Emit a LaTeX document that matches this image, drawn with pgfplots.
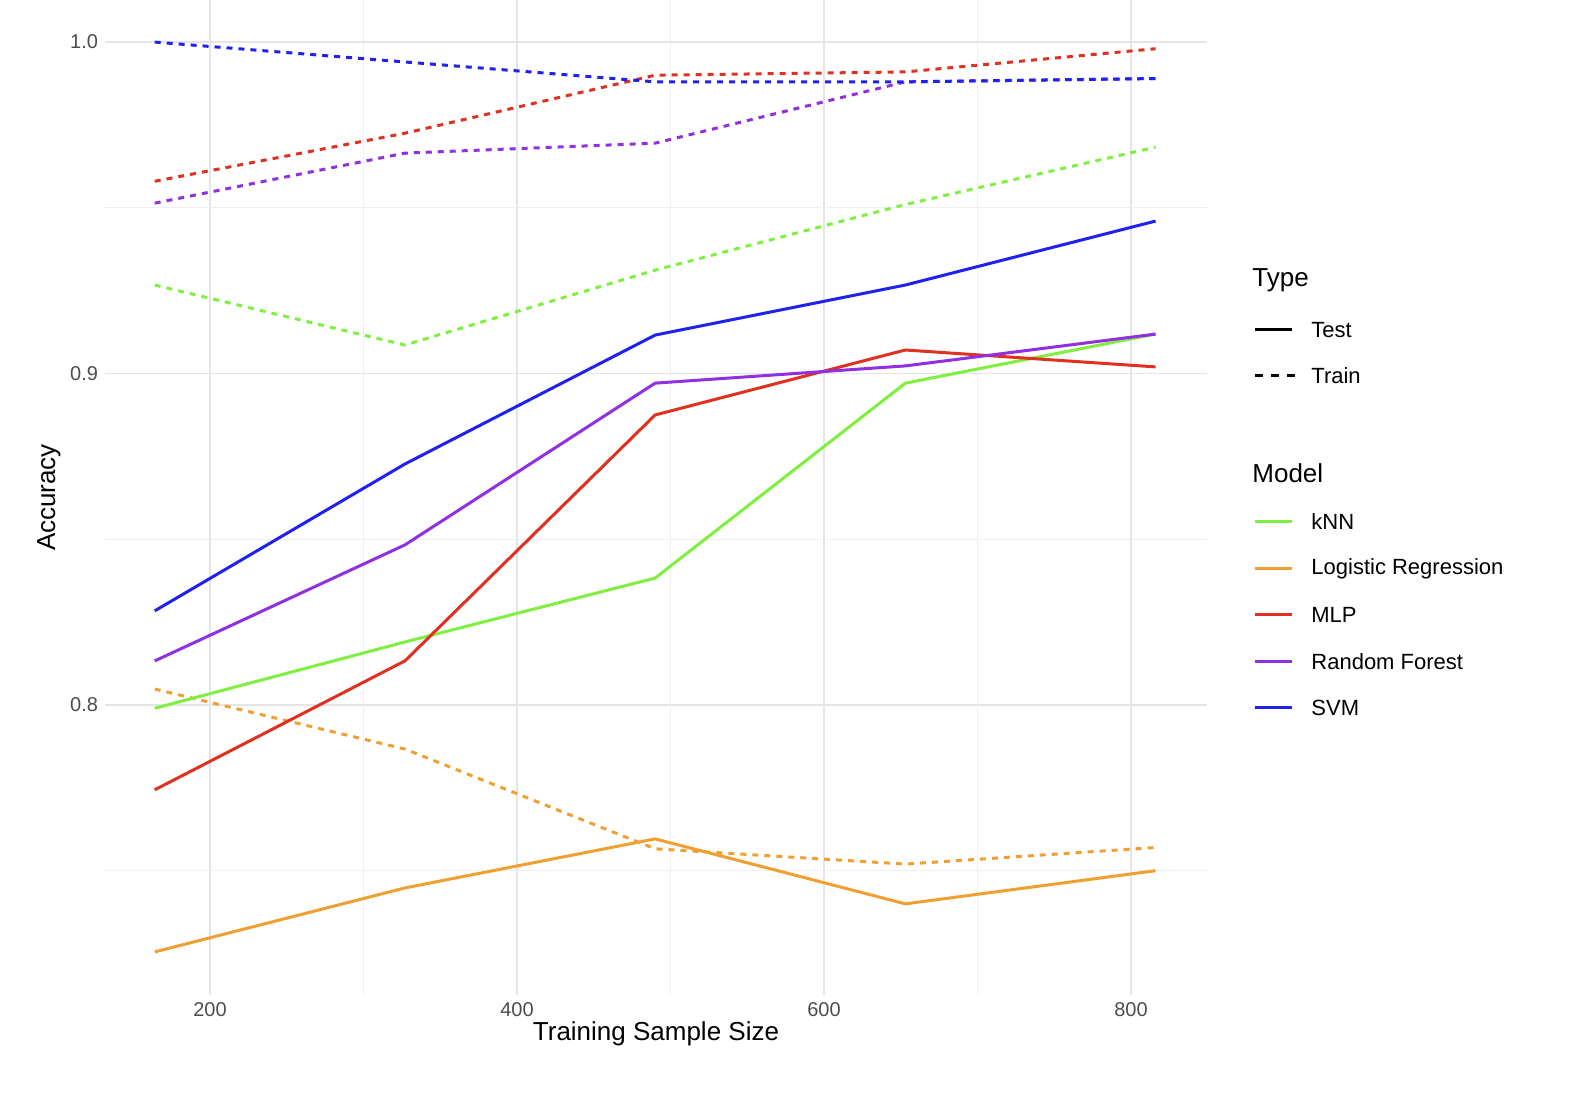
\documentclass[border=0pt]{standalone}
\usepackage{pgfplots}
\pgfplotsset{compat=1.18}
\usepackage{fontspec}
\setmainfont{Liberation Sans}
\definecolor{cknn}{HTML}{80F040}
\definecolor{clr}{HTML}{F0A030}
\definecolor{cmlp}{HTML}{E03020}
\definecolor{crf}{HTML}{9030E0}
\definecolor{csvm}{HTML}{2020F0}
\definecolor{tick}{HTML}{4D4D4D}
\begin{document}
\begin{tikzpicture}[x=0.5pt,y=0.5pt]
\useasboundingbox (-105,-101) rectangle (1467,995);
\begin{axis}[at={(0,0)},anchor=south west,scale only axis,width=551pt,height=497.5pt,
 xmin=131.6,xmax=849.5,ymin=0.7125,ymax=1.0127,
 axis line style={draw=none},tick style={draw=none},
 xtick={200,400,600,800},ytick={0.8,0.9,1.0},
 minor xtick={300,500,700},minor ytick={0.75,0.85,0.95},
 yticklabels={0.8,0.9,1.0},
 grid=both,major grid style={color=gray!20,line width=0.6pt},minor grid style={color=gray!12,line width=0.4pt},
 ticklabel style={font=\fontsize{10}{12}\selectfont,color=tick},
 /pgf/number format/assume math mode=true,
 xlabel={Training Sample Size},ylabel={Accuracy},
 label style={font=\fontsize{13}{15}\selectfont},
 xlabel style={yshift=4pt},ylabel style={yshift=-2pt},
 every axis plot/.append style={line width=1.5pt,no marks},
 dash/.style={dash pattern=on 3pt off 3pt}]
% train
\addplot[cknn,dash] coordinates {(164,0.9267)(327,0.9086)(490,0.9312)(653,0.951)(816,0.9683)};
\addplot[clr,dash] coordinates {(164,0.8048)(327,0.7867)(490,0.7566)(653,0.752)(816,0.757)};
\addplot[crf,dash] coordinates {(164,0.9514)(327,0.9665)(490,0.9695)(653,0.988)(816,0.989)};
\addplot[cmlp,dash] coordinates {(164,0.958)(327,0.9725)(490,0.99)(653,0.991)(816,0.998)};
\addplot[csvm,dash] coordinates {(164,1.0)(327,0.994)(490,0.988)(653,0.988)(816,0.989)};
% test
\addplot[cknn] coordinates {(164,0.799)(327,0.819)(490,0.8383)(653,0.8971)(816,0.9119)};
\addplot[clr] coordinates {(164,0.7255)(327,0.7448)(490,0.7596)(653,0.740)(816,0.750)};
\addplot[cmlp] coordinates {(164,0.7744)(327,0.8133)(490,0.8875)(653,0.9071)(816,0.902)};
\addplot[crf] coordinates {(164,0.8133)(327,0.8483)(490,0.8971)(653,0.9023)(816,0.9119)};
\addplot[csvm] coordinates {(164,0.8284)(327,0.8727)(490,0.9116)(653,0.9267)(816,0.946)};
\end{axis}
% legend (pixel coords: x-105, 995-y)
\begin{scope}[font=\fontsize{11}{13}\selectfont]
\node[anchor=west,inner sep=0,font=\fontsize{13}{15}\selectfont] at (1147,715) {Type};
\draw[line width=1.5pt] (1150,665)--(1187,665); \node[anchor=west,inner sep=0] at (1206,665) {Test};
\draw[line width=1.5pt,dash pattern=on 4pt off 4pt] (1150,619)--(1190,619); \node[anchor=west,inner sep=0] at (1206,619) {Train};
\node[anchor=west,inner sep=0,font=\fontsize{13}{15}\selectfont] at (1147,522) {Model};
\foreach \c/\t/\y in {cknn/kNN/473,clr/Logistic Regression/426,cmlp/MLP/380,crf/Random Forest/333,csvm/SVM/287}{
 \draw[\c,line width=1.5pt] (1150,\y)--(1187,\y); \node[anchor=west,inner sep=0] at (1206,\y) {\t};}
\end{scope}
\end{tikzpicture}
\end{document}
